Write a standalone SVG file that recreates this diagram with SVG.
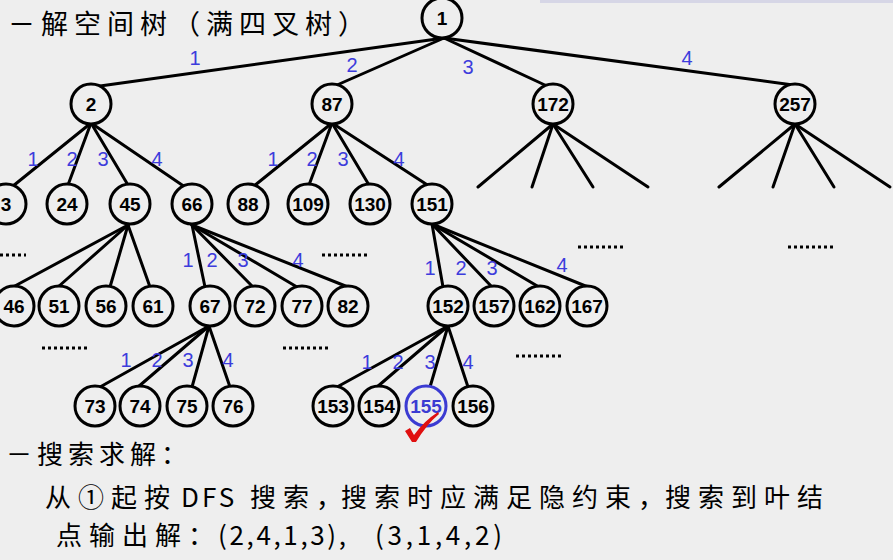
<svg xmlns="http://www.w3.org/2000/svg" width="893" height="560" viewBox="0 0 893 560">
<style>
.bg{fill:#eeeeee}
.e{stroke:#000;stroke-width:3;fill:none;stroke-linecap:round}
.n circle{fill:#eeeeee;stroke:#000;stroke-width:3}
.n text{font-family:"Liberation Sans",Arial,sans-serif;font-weight:bold;font-size:19px;text-anchor:middle;fill:#000}
.n.sel circle{stroke:#3b3bd2}
.n.sel text{fill:#3b3bd2}
.lb{font-family:"Liberation Sans",Arial,sans-serif;font-size:20px;text-anchor:middle;fill:#3c3cdc}
.dots{stroke:#000;stroke-width:3;stroke-dasharray:3 3}
.cn{font-family:"Noto Sans CJK SC","Noto Sans",sans-serif;fill:#000}
</style>
<rect class="bg" x="0" y="0" width="893" height="560"/>
<rect x="540" y="0" width="353" height="3" fill="#d6d6e6"/>

<g id="connectors">
<line class="e" x1="444" y1="38" x2="100" y2="86"/>
<line class="e" x1="444" y1="38" x2="337" y2="85"/>
<line class="e" x1="444" y1="38" x2="547" y2="86"/>
<line class="e" x1="444" y1="38" x2="793" y2="85"/>

<line class="e" x1="91" y1="123" x2="13" y2="186"/>
<line class="e" x1="91" y1="123" x2="68" y2="185"/>
<line class="e" x1="91" y1="123" x2="128" y2="185"/>
<line class="e" x1="91" y1="123" x2="185" y2="187"/>

<line class="e" x1="332" y1="123" x2="254" y2="186"/>
<line class="e" x1="332" y1="123" x2="309" y2="185"/>
<line class="e" x1="332" y1="123" x2="369" y2="185"/>
<line class="e" x1="332" y1="123" x2="429" y2="186"/>

<line class="e" x1="553" y1="124" x2="478" y2="187"/>
<line class="e" x1="553" y1="124" x2="532" y2="187"/>
<line class="e" x1="553" y1="124" x2="593" y2="187"/>
<line class="e" x1="553" y1="124" x2="648" y2="187"/>

<line class="e" x1="795" y1="124" x2="719" y2="187"/>
<line class="e" x1="795" y1="124" x2="773" y2="187"/>
<line class="e" x1="795" y1="124" x2="834" y2="187"/>
<line class="e" x1="795" y1="124" x2="890" y2="187"/>

<line class="e" x1="128" y1="225" x2="13" y2="287"/>
<line class="e" x1="128" y1="225" x2="58" y2="287"/>
<line class="e" x1="128" y1="225" x2="110" y2="287"/>
<line class="e" x1="128" y1="225" x2="150" y2="287"/>

<line class="e" x1="192" y1="225" x2="205" y2="287"/>
<line class="e" x1="192" y1="225" x2="253" y2="287"/>
<line class="e" x1="192" y1="225" x2="297" y2="287"/>
<line class="e" x1="192" y1="225" x2="348" y2="287"/>

<line class="e" x1="432" y1="224" x2="443" y2="287"/>
<line class="e" x1="432" y1="224" x2="492" y2="287"/>
<line class="e" x1="432" y1="224" x2="539" y2="287"/>
<line class="e" x1="432" y1="224" x2="588" y2="287"/>

<line class="e" x1="209" y1="326" x2="100" y2="387"/>
<line class="e" x1="209" y1="326" x2="138" y2="387"/>
<line class="e" x1="209" y1="326" x2="192" y2="387"/>
<line class="e" x1="209" y1="326" x2="230" y2="387"/>

<line class="e" x1="448" y1="326" x2="337" y2="387"/>
<line class="e" x1="448" y1="326" x2="377" y2="387"/>
<line class="e" x1="448" y1="326" x2="430" y2="387"/>
<line class="e" x1="448" y1="326" x2="468" y2="387"/>
</g>

<g id="edge-labels">
<text class="lb" x="195" y="65">1</text>
<text class="lb" x="352" y="72">2</text>
<text class="lb" x="468" y="74">3</text>
<text class="lb" x="687" y="65">4</text>

<text class="lb" x="33" y="166">1</text>
<text class="lb" x="72" y="166">2</text>
<text class="lb" x="103" y="166">3</text>
<text class="lb" x="157" y="166">4</text>

<text class="lb" x="273" y="166">1</text>
<text class="lb" x="312" y="166">2</text>
<text class="lb" x="343" y="166">3</text>
<text class="lb" x="399" y="166">4</text>

<text class="lb" x="188" y="267">1</text>
<text class="lb" x="212" y="267">2</text>
<text class="lb" x="243" y="267">3</text>
<text class="lb" x="298" y="267">4</text>

<text class="lb" x="430" y="275">1</text>
<text class="lb" x="461" y="275">2</text>
<text class="lb" x="492" y="275">3</text>
<text class="lb" x="562" y="272">4</text>

<text class="lb" x="126" y="367">1</text>
<text class="lb" x="157" y="367">2</text>
<text class="lb" x="188" y="367">3</text>
<text class="lb" x="228" y="367">4</text>

<text class="lb" x="367" y="369">1</text>
<text class="lb" x="398" y="369">2</text>
<text class="lb" x="430" y="369">3</text>
<text class="lb" x="468" y="369">4</text>
</g>

<g id="ellipses">
<line class="dots" x1="0" y1="255" x2="26" y2="255"/>
<line class="dots" x1="322" y1="255" x2="368" y2="255"/>
<line class="dots" x1="578" y1="247" x2="626" y2="247"/>
<line class="dots" x1="788" y1="247" x2="836" y2="247"/>
<line class="dots" x1="42" y1="348" x2="88" y2="348"/>
<line class="dots" x1="283" y1="348" x2="329" y2="348"/>
<line class="dots" x1="516" y1="356" x2="562" y2="356"/>
</g>

<g id="node-1" class="n"><circle cx="442" cy="18" r="20"/><text x="442" y="25">1</text></g>
<g id="node-2" class="n"><circle cx="91" cy="104" r="20"/><text x="91" y="111">2</text></g>
<g id="node-87" class="n"><circle cx="332" cy="104" r="20"/><text x="332" y="111">87</text></g>
<g id="node-172" class="n"><circle cx="553" cy="104" r="20"/><text x="553" y="111">172</text></g>
<g id="node-257" class="n"><circle cx="795" cy="104" r="20"/><text x="795" y="111">257</text></g>

<g id="node-3" class="n"><circle cx="6" cy="204" r="20"/><text x="6" y="211">3</text></g>
<g id="node-24" class="n"><circle cx="67" cy="204" r="20"/><text x="67" y="211">24</text></g>
<g id="node-45" class="n"><circle cx="130" cy="204" r="20"/><text x="130" y="211">45</text></g>
<g id="node-66" class="n"><circle cx="192" cy="204" r="20"/><text x="192" y="211">66</text></g>
<g id="node-88" class="n"><circle cx="248" cy="204" r="20"/><text x="248" y="211">88</text></g>
<g id="node-109" class="n"><circle cx="308" cy="204" r="20"/><text x="308" y="211">109</text></g>
<g id="node-130" class="n"><circle cx="370" cy="204" r="20"/><text x="370" y="211">130</text></g>
<g id="node-151" class="n"><circle cx="432" cy="204" r="20"/><text x="432" y="211">151</text></g>

<g id="node-46" class="n"><circle cx="14" cy="306" r="20"/><text x="14" y="313">46</text></g>
<g id="node-51" class="n"><circle cx="59" cy="306" r="20"/><text x="59" y="313">51</text></g>
<g id="node-56" class="n"><circle cx="106" cy="306" r="20"/><text x="106" y="313">56</text></g>
<g id="node-61" class="n"><circle cx="153" cy="306" r="20"/><text x="153" y="313">61</text></g>
<g id="node-67" class="n"><circle cx="210" cy="306" r="20"/><text x="210" y="313">67</text></g>
<g id="node-72" class="n"><circle cx="255" cy="306" r="20"/><text x="255" y="313">72</text></g>
<g id="node-77" class="n"><circle cx="302" cy="306" r="20"/><text x="302" y="313">77</text></g>
<g id="node-82" class="n"><circle cx="348" cy="306" r="20"/><text x="348" y="313">82</text></g>
<g id="node-152" class="n"><circle cx="448" cy="306" r="20"/><text x="448" y="313">152</text></g>
<g id="node-157" class="n"><circle cx="494" cy="306" r="20"/><text x="494" y="313">157</text></g>
<g id="node-162" class="n"><circle cx="540" cy="306" r="20"/><text x="540" y="313">162</text></g>
<g id="node-167" class="n"><circle cx="587" cy="306" r="20"/><text x="587" y="313">167</text></g>

<g id="node-73" class="n"><circle cx="95" cy="406" r="20"/><text x="95" y="413">73</text></g>
<g id="node-74" class="n"><circle cx="140" cy="406" r="20"/><text x="140" y="413">74</text></g>
<g id="node-75" class="n"><circle cx="187" cy="406" r="20"/><text x="187" y="413">75</text></g>
<g id="node-76" class="n"><circle cx="233" cy="406" r="20"/><text x="233" y="413">76</text></g>
<g id="node-153" class="n"><circle cx="333" cy="406" r="20"/><text x="333" y="413">153</text></g>
<g id="node-154" class="n"><circle cx="379" cy="406" r="20"/><text x="379" y="413">154</text></g>
<g id="node-155" class="n sel"><circle cx="426" cy="406" r="20"/><text x="426" y="413">155</text></g>
<g id="node-156" class="n"><circle cx="473" cy="406" r="20"/><text x="473" y="413">156</text></g>

<path id="check" d="M405,431 L410,428 L414,435 Q424,421 438,412 L439,414 Q427,424 416,442 L412,442 Z" fill="#e01010"/>

<text class="cn" x="8" y="34" font-size="27" letter-spacing="6">－解空间树（满四叉树）</text>
<text class="cn" x="6" y="464" font-size="26" letter-spacing="5">－搜索求解：</text>
<text class="cn" y="507" font-size="26" letter-spacing="7"><tspan x="45">从①起按</tspan><tspan x="181" letter-spacing="3">DFS</tspan><tspan x="250">搜索，</tspan><tspan x="341">搜索时应满足隐约束，</tspan><tspan x="665">搜索到叶结</tspan></text>
<text class="cn" y="545" font-size="26" letter-spacing="7"><tspan x="56">点输出解：</tspan></text>
<text class="cn" x="218" y="545" font-size="26" textLength="128" lengthAdjust="spacing">(2,4,1,3),</text>
<text class="cn" x="375" y="545" font-size="26" textLength="127" lengthAdjust="spacing">(3,1,4,2)</text>
</svg>
